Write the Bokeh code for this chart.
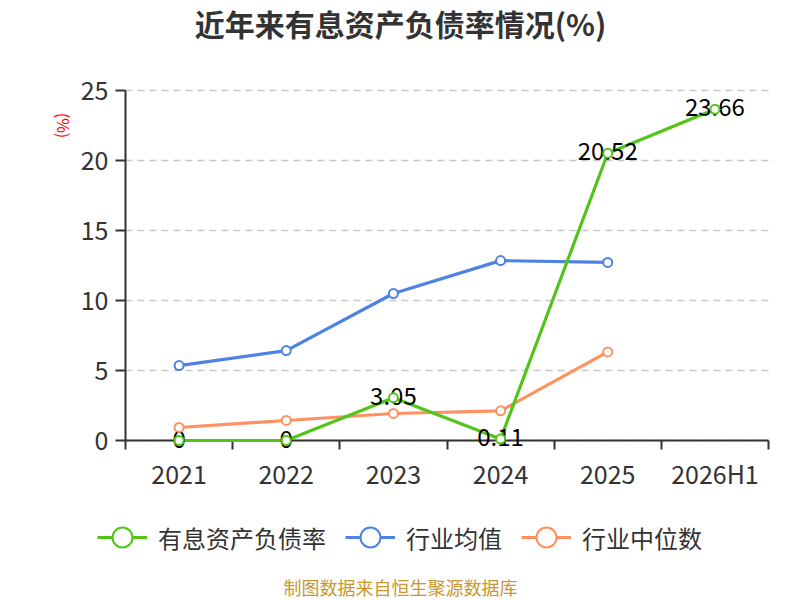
import math
from bokeh.plotting import figure
from bokeh.models import (Range1d, FixedTicker, Legend, LegendItem, ColumnDataSource, Label)
from bokeh.core.properties import value
from bokeh.embed import file_html
from bokeh.resources import INLINE

# ---- data ----
categories = ["2021", "2022", "2023", "2024", "2025", "2026H1"]
debt_ratio = [0, 0, 3.05, 0.11, 20.52, 23.66]          # 有息资产负债率
industry_mean = [5.35, 6.42, 10.5, 12.85, 12.72]        # 行业均值
industry_median = [0.93, 1.43, 1.93, 2.12, 6.33]        # 行业中位数
series_names = ["有息资产负债率", "行业均值", "行业中位数"]
y_ticks = [0, 5, 10, 15, 20, 25]
title_text = "近年来有息资产负债率情况(%)"
footer_text = "制图数据来自恒生聚源数据库"
y_unit = "(%)"

FONT = "Noto Sans CJK SC"
GREEN = "#52c41a"
BLUE = "#4e83e3"
ORANGE = "#ff9160"
AXIS = "#333333"

W, H = 800, 600
# plot area in canvas pixels
PX_L, PX_R, PX_T, PX_B = 125, 768, 90, 440
n = len(categories)
y_max = y_ticks[-1]
sx = (PX_R - PX_L) / n          # px per category
sy = (PX_B - PX_T) / y_max      # px per unit

def dx(px):  # canvas px -> data x
    return (px - PX_L) / sx

def dy(py):  # canvas py -> data y
    return (PX_B - py) / sy

xs = [i + 0.5 for i in range(n)]

p = figure(width=W, height=H, output_backend="svg", toolbar_location=None,
           x_range=Range1d(dx(0), dx(W)), y_range=Range1d(dy(H), dy(0)),
           min_border=0, x_axis_location="below", y_axis_location="left")
p.outline_line_color = None
p.background_fill_color = "white"
p.border_fill_color = "white"
p.xgrid.grid_line_color = None
p.ygrid.grid_line_color = None

# axes, fixed at the plot-area edges
xa = p.xaxis[0]
xa.fixed_location = 0
xa.bounds = (0, n)
xa.ticker = FixedTicker(ticks=xs, minor_ticks=list(range(n + 1)))
xa.major_label_overrides = {x: c for x, c in zip(xs, categories)}
xa.major_tick_out = 0
xa.major_tick_in = 0
xa.minor_tick_out = 9
xa.minor_tick_in = 0
xa.minor_tick_line_color = AXIS
xa.minor_tick_line_width = 2
xa.axis_line_color = AXIS
xa.axis_line_width = 2
xa.major_label_text_font = FONT
xa.major_label_text_font_size = "25px"
xa.major_label_text_color = AXIS
xa.major_label_standoff = 5

ya = p.yaxis[0]
ya.fixed_location = 0
ya.bounds = (0, y_max)
ya.ticker = FixedTicker(ticks=y_ticks)
ya.major_tick_out = 10
ya.major_tick_in = 0
ya.minor_tick_line_color = None
ya.major_tick_line_color = AXIS
ya.major_tick_line_width = 2
ya.axis_line_color = AXIS
ya.axis_line_width = 2
ya.major_label_text_font = FONT
ya.major_label_text_font_size = "25px"
ya.major_label_text_color = AXIS
ya.major_label_standoff = 7

# dashed horizontal grid lines across the plot area
gsrc = ColumnDataSource(dict(x0=[0] * len(y_ticks), x1=[n] * len(y_ticks), y=y_ticks))
p.segment("x0", "y", "x1", "y", source=gsrc, line_color="#c8c8c8", line_width=1.5,
          line_dash="7 5")

# series
src_g = ColumnDataSource(dict(x=xs, y=debt_ratio, t=[f"{v:g}" for v in debt_ratio]))
src_b = ColumnDataSource(dict(x=xs[:len(industry_mean)], y=industry_mean))
src_o = ColumnDataSource(dict(x=xs[:len(industry_median)], y=industry_median))

lb = p.line("x", "y", source=src_b, line_color=BLUE, line_width=3.2, level="overlay")
lo = p.line("x", "y", source=src_o, line_color=ORANGE, line_width=3.2, level="overlay")
lg = p.line("x", "y", source=src_g, line_color=GREEN, line_width=3.2, level="overlay")

p.text("x", "y", text="t", source=src_g, text_font=value(FONT), text_font_size="24px",
       text_color="black", text_align="center", text_baseline="middle", y_offset=-2,
       level="overlay")

mb = p.scatter("x", "y", source=src_b, size=9, marker="circle", fill_color="white",
               line_color=BLUE, line_width=2, level="overlay")
mo = p.scatter("x", "y", source=src_o, size=9, marker="circle", fill_color="white",
               line_color=ORANGE, line_width=2, level="overlay")
mg = p.scatter("x", "y", source=src_g, size=9, marker="circle", fill_color="white",
               line_color=GREEN, line_width=2, level="overlay")

# title, unit, footer
p.add_layout(Label(x=dx(400), y=dy(22), text=title_text, text_font=FONT,
                   text_font_size="30px", text_font_style="bold", text_color="#333333",
                   text_align="center", text_baseline="middle"))
p.add_layout(Label(x=dx(63), y=dy(125), text=y_unit, text_font=FONT, text_font_size="16px",
                   text_color="red", text_align="center", text_baseline="middle",
                   angle=-math.pi / 2))
p.add_layout(Label(x=dx(400), y=dy(586), text=footer_text, text_font=FONT,
                   text_font_size="18px", text_color="#c9962f", text_align="center",
                   text_baseline="middle"))

legend = Legend(items=[LegendItem(label=series_names[0], renderers=[lg, mg]),
                       LegendItem(label=series_names[1], renderers=[lb, mb]),
                       LegendItem(label=series_names[2], renderers=[lo, mo])],
                orientation="horizontal", location=(97, H - 562),
                glyph_width=50, glyph_height=50, label_standoff=11, spacing=19,
                padding=0, margin=0, border_line_color=None, background_fill_alpha=0,
                label_text_font=FONT, label_text_font_size="24px", label_text_color=AXIS)
p.add_layout(legend, "center")

open("out.html", "w").write(file_html(p, INLINE))
